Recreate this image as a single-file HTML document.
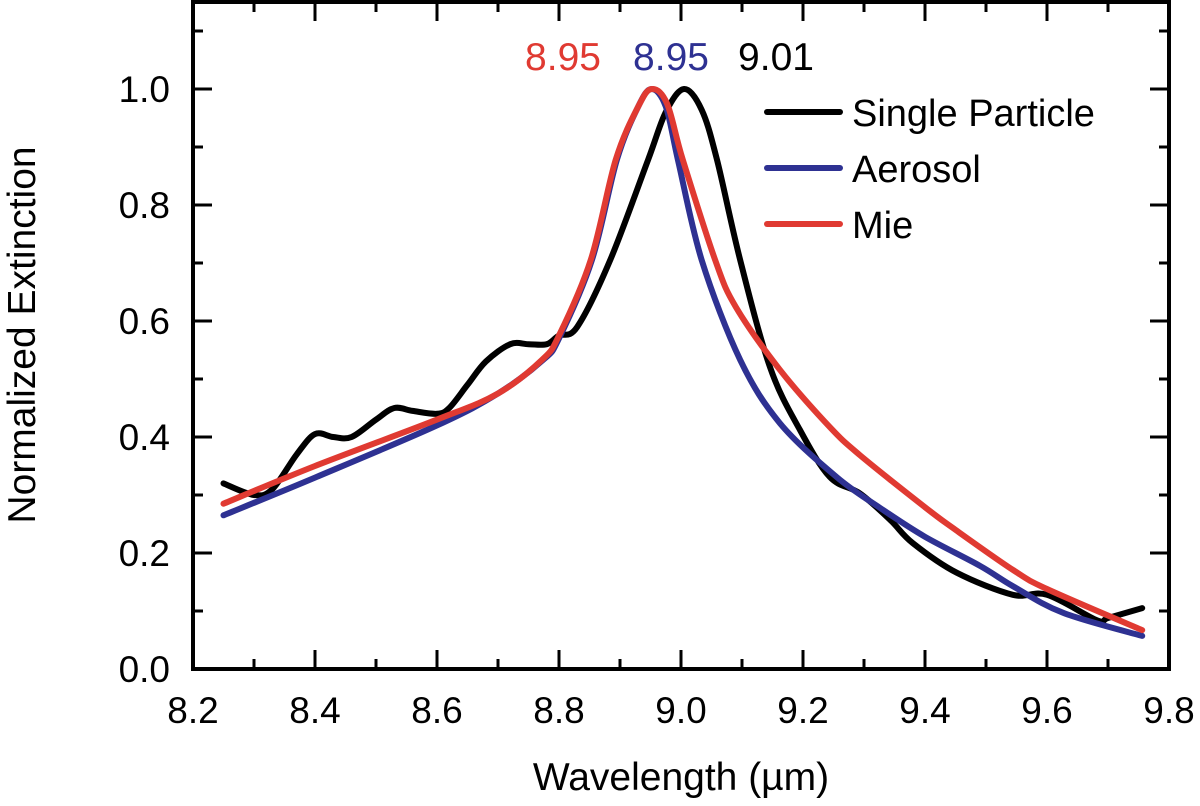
<!DOCTYPE html>
<html><head><meta charset="utf-8"><style>
body{margin:0;background:#fff}
svg{display:block;font-family:"Liberation Sans",Arial,sans-serif}
</style></head><body>
<svg id="chart" width="1200" height="806" viewBox="0 0 1200 806"></svg>
<script>
const blackX=[8.25,8.30,8.33,8.37,8.40,8.43,8.46,8.50,8.53,8.56,8.60,8.62,8.65,8.68,8.72,8.75,8.78,8.80,8.83,8.884,8.946,8.975,9.005,9.034,9.059,9.097,9.146,9.195,9.244,9.293,9.343,9.38,9.452,9.544,9.60,9.682,9.70,9.756];
const blackY=[0.32,0.30,0.31,0.37,0.405,0.40,0.40,0.43,0.45,0.445,0.44,0.45,0.49,0.53,0.56,0.56,0.56,0.575,0.59,0.705,0.878,0.96,1.0,0.964,0.878,0.705,0.52,0.412,0.331,0.303,0.257,0.217,0.166,0.128,0.128,0.084,0.088,0.105];
const blueX=[8.25,8.4,8.6,8.7,8.774,8.80,8.854,8.895,8.93,8.952,8.975,8.995,9.034,9.097,9.162,9.255,9.326,9.40,9.49,9.544,9.626,9.756];
const blueY=[0.265,0.33,0.42,0.475,0.533,0.57,0.705,0.878,0.97,1.0,0.97,0.878,0.705,0.533,0.424,0.331,0.278,0.228,0.178,0.143,0.097,0.057];
const redX=[8.25,8.4,8.6,8.7,8.772,8.80,8.852,8.893,8.93,8.952,8.977,9.003,9.056,9.09,9.162,9.244,9.293,9.40,9.446,9.544,9.60,9.756];
const redY=[0.285,0.35,0.43,0.475,0.533,0.575,0.705,0.878,0.97,1.0,0.975,0.878,0.705,0.624,0.516,0.417,0.369,0.279,0.243,0.171,0.138,0.067];
const xTicks=["8.2","8.4","8.6","8.8","9.0","9.2","9.4","9.6","9.8"];
const yTicks=["0.0","0.2","0.4","0.6","0.8","1.0"];
const peakLabels=["8.95","8.95","9.01"];
const legendLabels=["Single Particle","Aerosol","Mie"];

const L=193,R=1169,T=2,B=669;
const sx=v=>L+(v-8.2)/(9.8-8.2)*(R-L);
const sy=v=>B-(v/1.15)*(B-T);
const svg=document.getElementById('chart');
const NS='http://www.w3.org/2000/svg';
function mk(tag,attrs,txt){const e=document.createElementNS(NS,tag);for(const k in attrs)e.setAttribute(k,attrs[k]);if(txt!=null)e.textContent=txt;svg.appendChild(e);return e;}

for(let i=0;i<=16;i++){const v=8.2+i*0.1;const x=sx(v);const len=i%2==0?19:10;
 let t=mk('line',{x1:x,y1:B,x2:x,y2:B-len,stroke:'#000','stroke-width':3});
 
 t=mk('line',{x1:x,y1:T,x2:x,y2:T+len,stroke:'#000','stroke-width':3});
 }
for(let i=0;i<=11;i++){const v=i*0.1;const y=sy(v);const len=i%2==0?19:10;
 let t=mk('line',{x1:L,y1:y,x2:L+len,y2:y,stroke:'#000','stroke-width':3});
 
 t=mk('line',{x1:R,y1:y,x2:R-len,y2:y,stroke:'#000','stroke-width':3});
 }
xTicks.forEach(s=>{const t=mk('text',{x:sx(parseFloat(s)),y:723,'font-size':37,'text-anchor':'middle'},s);
 });
yTicks.forEach(s=>{const t=mk('text',{x:170,y:sy(parseFloat(s))+13,'font-size':37,'text-anchor':'end'},s);
 });

function line(xs,ys,color,name){
 const P=xs.map((x,i)=>[sx(x),sy(ys[i])]);
 let d='M'+P[0][0].toFixed(1)+' '+P[0][1].toFixed(1);
 for(let i=0;i<P.length-1;i++){const p0=P[Math.max(0,i-1)],p1=P[i],p2=P[i+1],p3=P[Math.min(P.length-1,i+2)];
  const c1=[p1[0]+(p2[0]-p0[0])/6,p1[1]+(p2[1]-p0[1])/6],c2=[p2[0]-(p3[0]-p1[0])/6,p2[1]-(p3[1]-p1[1])/6];
  d+=` C${c1[0].toFixed(1)} ${c1[1].toFixed(1)} ${c2[0].toFixed(1)} ${c2[1].toFixed(1)} ${p2[0].toFixed(1)} ${p2[1].toFixed(1)}`;}
 const p=mk('path',{d:d,fill:'none',stroke:color,'stroke-width':6,'stroke-linejoin':'round','stroke-linecap':'round'});
 }
line(blackX,blackY,'#000','single-particle-line');
line(blueX,blueY,'#2e3192','aerosol-line');
line(redX,redY,'#e03a32','mie-line');

const box=mk('rect',{x:L,y:T,width:R-L,height:B-T,fill:'none',stroke:'#000','stroke-width':4});


const pc=['#e03a32','#2e3192','#000'],px=[563,671,776];
peakLabels.forEach((s,i)=>{const t=mk('text',{x:px[i],y:70,'font-size':39,'text-anchor':'middle',fill:pc[i]},s);
 });
const lc=['#000','#2e3192','#e03a32'];
legendLabels.forEach((s,i)=>{const y=112+i*56;
 const l=mk('line',{x1:767,y1:y,x2:840,y2:y,stroke:lc[i],'stroke-width':6,'stroke-linecap':'round'});
 
 const t=mk('text',{x:852,y:y+14,'font-size':38},s);
 });
const xt=mk('text',{x:681,y:790,'font-size':39,'text-anchor':'middle'},'Wavelength (µm)');

const yt=mk('text',{x:0,y:0,'font-size':39,'text-anchor':'middle',transform:'translate(35 335) rotate(-90)'},'Normalized Extinction');

</script>
</body></html>
